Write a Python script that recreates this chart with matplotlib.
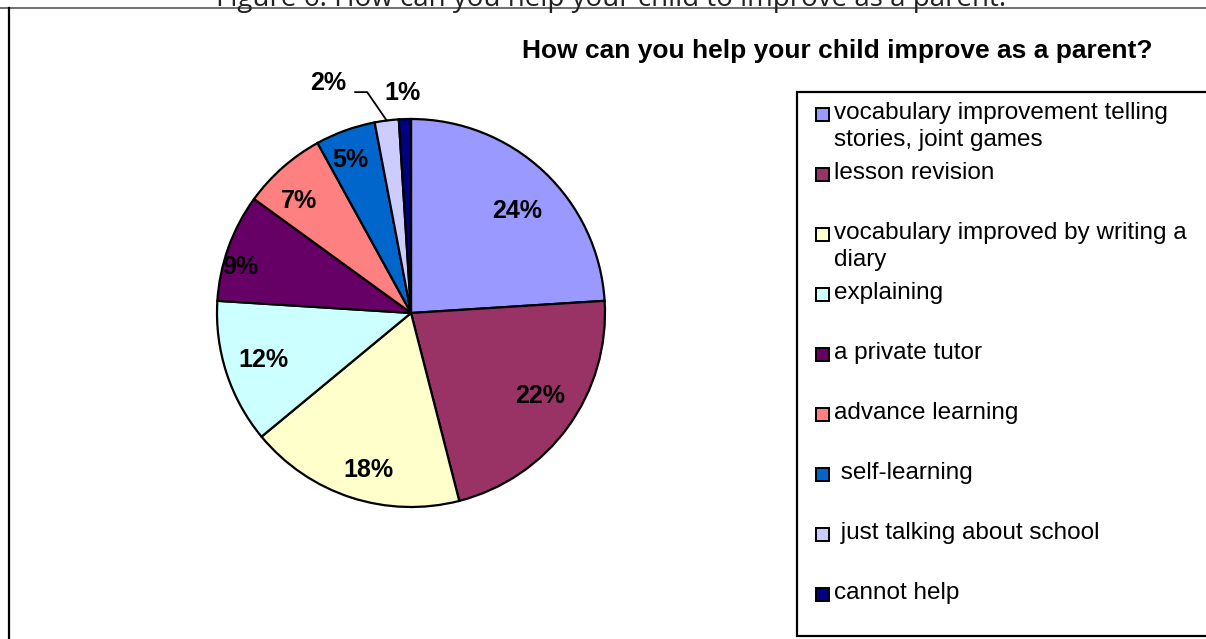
import numpy as np
import matplotlib
matplotlib.use("Agg")
import matplotlib.pyplot as plt
from matplotlib.patches import Rectangle
from matplotlib.lines import Line2D

# Survey answers (share of responses, %)
categories = [
    "vocabulary improvement telling\nstories, joint games",
    "lesson revision",
    "vocabulary improved by writing a\ndiary",
    "explaining",
    "a private tutor",
    "advance learning",
    " self-learning",
    " just talking about school",
    "cannot help",
]
shares = [24, 22, 18, 12, 9, 7, 5, 2, 1]
colors = ["#9999FF", "#993366", "#FFFFCC", "#CCFFFF", "#660066",
          "#FF8080", "#0066CC", "#CCCCFF", "#000080"]

title = "How can you help your child improve as a parent?"
caption = "Figure 6: How can you help your child to improve as a parent."

W, H = 1206, 639
fig = plt.figure(figsize=(W / 100, H / 100), dpi=100)
fig.patch.set_facecolor("white")


def fx(px):
    return px / W


def fy(py):
    return 1 - py / H


# Caption strip and frame
fig.text(fx(611), fy(6), caption, ha="center", va="baseline",
         fontsize=20, family="Open Sans", color="#222222")
fig.add_artist(Line2D([0, 1], [fy(8), fy(8)], color="#555555", lw=1.2,
                      transform=fig.transFigure))
fig.add_artist(Line2D([fx(9), fx(9)], [fy(8), fy(640)], color="black",
                      lw=1.6, transform=fig.transFigure))

# Chart title
fig.text(fx(837), fy(51), title, ha="center", va="center",
         fontsize=19, fontweight="bold", family="Liberation Sans")

# Pie
cx, cy, R = 411, 313, 194
half = 200
ax = fig.add_axes([fx(cx - half), fy(cy + half), 2 * half / W, 2 * half / H])
ax.axis("off")

wedges, _ = ax.pie(shares, colors=colors, startangle=90, counterclock=False,
                   radius=1.0, wedgeprops=dict(edgecolor="black", linewidth=1.6))
lim = half / R
ax.set_xlim(-lim, lim)
ax.set_ylim(-lim, lim)
ax.set_aspect("equal")

# label placement: (radius factor, angle shift in degrees) per wedge
label_place = [(0.76, -2.8), (0.79, 3.2), (0.84, 3.0), (0.80, -0.5),
               (0.91, 4.8), (0.82, 3.6), (0.85, 1.9), (1.26, 12.6), (1.134, 0.3)]
for w, v, (rf, dang) in zip(wedges, shares, label_place):
    mid = (w.theta1 + w.theta2) / 2
    a = np.deg2rad(mid + dang)
    lx, ly = rf * np.cos(a), rf * np.sin(a)
    ax.text(lx, ly, f"{v}%", ha="center", va="center", fontsize=18,
            fontweight="bold", family="Liberation Sans", clip_on=False)
    if rf > 1.2:
        m = np.deg2rad(mid)
        ex, ey = np.cos(m), np.sin(m)
        ax.add_line(Line2D([ex, lx + 0.201, lx + 0.139],
                           [ey, ly - 0.047, ly - 0.047],
                           color="black", lw=1.3, clip_on=False))

# Legend box
fig.add_artist(Rectangle((fx(797), fy(636)), fx(420), (636 - 92) / H,
                         transform=fig.transFigure, facecolor="white",
                         edgecolor="black", lw=1.6, clip_on=False))
y0, step, line_h = 113, 60, 27
for i, (lab, col) in enumerate(zip(categories, colors)):
    ty = y0 + step * i
    fig.add_artist(Rectangle((fx(816), fy(ty + 8)), fx(13), 13 / H,
                             transform=fig.transFigure, facecolor=col,
                             edgecolor="black", lw=1.4))
    for j, part in enumerate(lab.split("\n")):
        fig.text(fx(834), fy(ty + line_h * j), part, ha="left", va="center",
                 fontsize=17.5, family="Liberation Sans")

fig.savefig("out.png", dpi=100, facecolor="white")
